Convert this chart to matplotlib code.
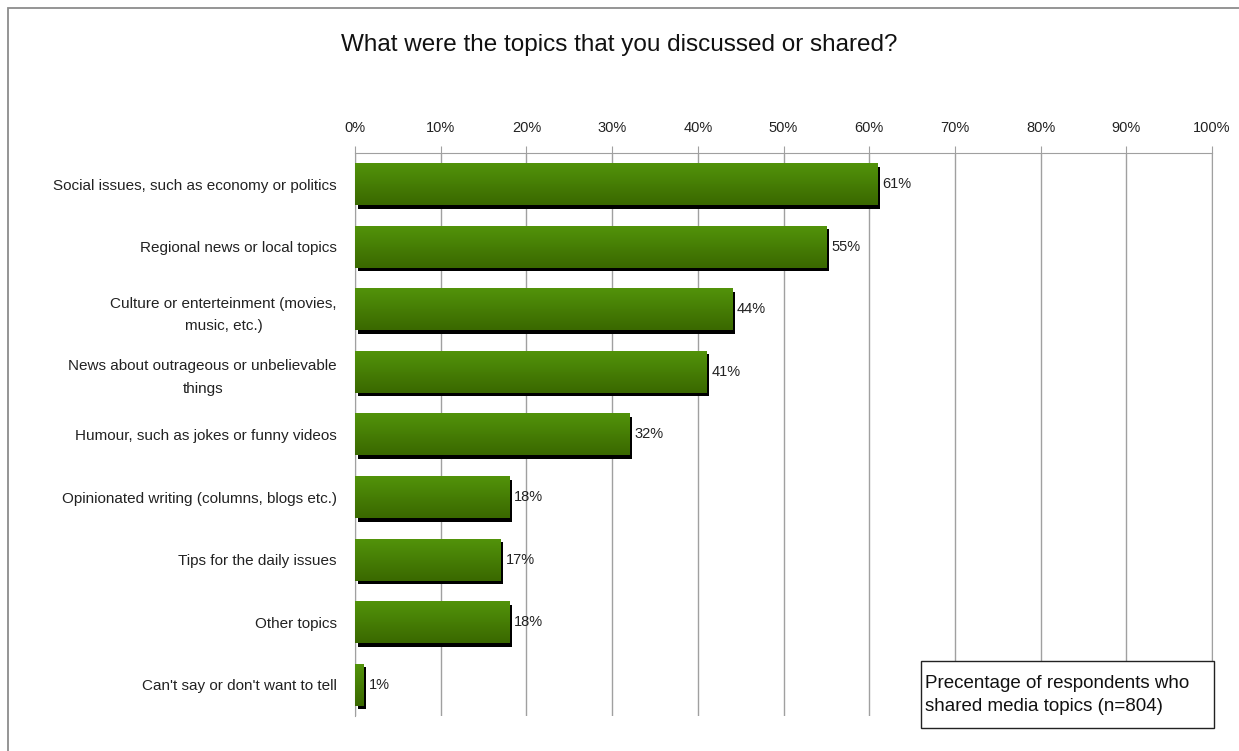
import numpy as np
import matplotlib.pyplot as plt
from matplotlib.colors import LinearSegmentedColormap
from matplotlib.patches import Rectangle
import matplotlib.transforms as mtransforms

plt.rcParams['font.family'] = ['Liberation Sans', 'DejaVu Sans']

topics = [
    "Social issues, such as economy or politics",
    "Regional news or local topics",
    "Culture or enterteinment (movies,\nmusic, etc.)",
    "News about outrageous or unbelievable\nthings",
    "Humour, such as jokes or funny videos",
    "Opinionated writing (columns, blogs etc.)",
    "Tips for the daily issues",
    "Other topics",
    "Can't say or don't want to tell",
]
shares = [61, 55, 44, 41, 32, 18, 17, 18, 1]
x_ticks = list(range(0, 101, 10))
x_tick_labels = [f"{t}%" for t in x_ticks]

W, H = 1239, 751
fig = plt.figure(figsize=(W / 100, H / 100), dpi=100)
fig.patch.set_facecolor('white')

# outer chart frame
fig.add_artist(Rectangle((8 / W, -0.05), 1.1, 1 - 8 / H + 0.05,
                         transform=fig.transFigure, fill=False,
                         edgecolor='#8c8c8c', linewidth=1.3))

ax = fig.add_axes([355 / W, 1 - 716 / H, 857 / W, (716 - 153) / H])

green = LinearSegmentedColormap.from_list('bar_green', ['#52930a', '#3a6800'])
grad = np.linspace(0, 1, 64).reshape(-1, 1)
bar_h = 0.67

# shadow offset of a few pixels down and right
shadow = mtransforms.offset_copy(ax.transData, fig=fig, x=2.5, y=-3.5, units='dots')

for i, v in enumerate(shares):
    ax.add_patch(Rectangle((0, i - bar_h / 2), v, bar_h, facecolor='black',
                           edgecolor='none', transform=shadow, zorder=2))
    ax.imshow(grad, cmap=green, aspect='auto', interpolation='bilinear',
              extent=[0, v, i + bar_h / 2, i - bar_h / 2], zorder=3)
    ax.annotate(f"{v}%", xy=(v, i), xytext=(3.5, 0), textcoords='offset points',
                va='center', ha='left', fontsize=10.5, color='#222222', zorder=4)

ax.set_xlim(0, 100)
ax.set_ylim(len(topics) - 0.5, -0.5)
ax.set_xticks(x_ticks)
ax.set_xticklabels(x_tick_labels)
ax.xaxis.tick_top()
ax.tick_params(axis='x', length=5, color='#a0a0a0', labelsize=10.5, pad=8,
               labelcolor='#222222')
ax.set_yticks(range(len(topics)))
ax.set_yticklabels(topics, ha='right', multialignment='center', linespacing=1.75)
ax.tick_params(axis='y', length=0, labelsize=11, labelcolor='#222222', pad=13)
ax.grid(axis='x', color='#a0a0a0', linewidth=1.0, zorder=0)
ax.set_axisbelow(True)
ax.spines['bottom'].set_visible(False)
for side in ['top', 'left', 'right']:
    ax.spines[side].set_color('#a0a0a0')

fig.text(0.5, 1 - 45 / H, "What were the topics that you discussed or shared?",
         ha='center', va='center', fontsize=17.5, color='#111111')

# note box in the lower right corner
fig.add_artist(Rectangle((921 / W, 1 - 728 / H), 293 / W, 67 / H,
                         transform=fig.transFigure, facecolor='white',
                         edgecolor='#222222', linewidth=1.0, zorder=5))
fig.text(925 / W, 1 - 695 / H, "Precentage of respondents who\nshared media topics (n=804)",
         ha='left', va='center', fontsize=13.5, color='#111111',
         linespacing=1.45, zorder=6)

fig.savefig('out.png', dpi=100)
